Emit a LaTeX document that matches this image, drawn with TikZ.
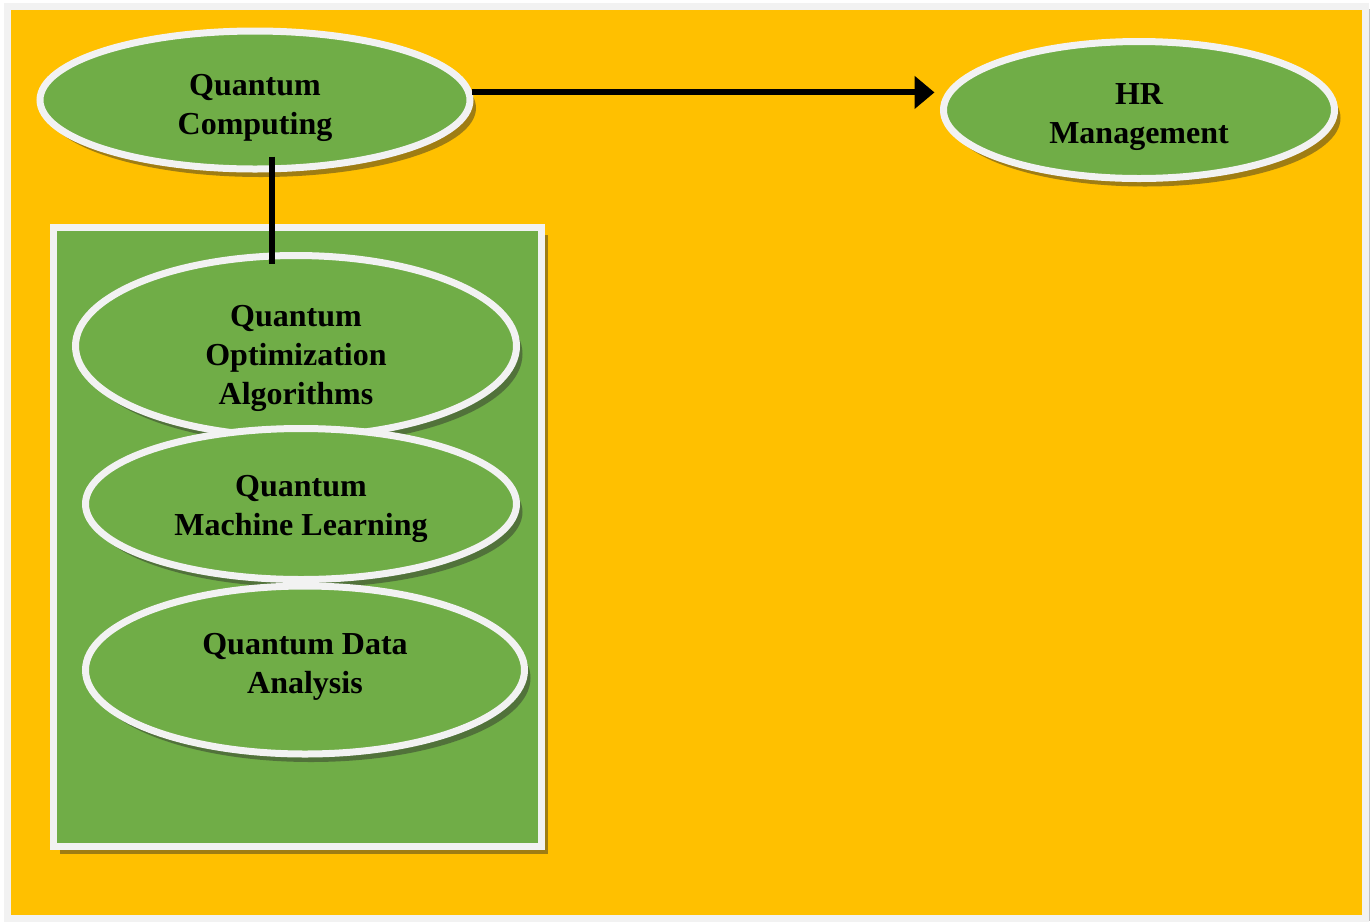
\documentclass[tikz,border=0pt]{standalone}
\usepackage{fontspec}
\setmainfont{Liberation Serif}
\usetikzlibrary{shapes.geometric,shadows,arrows.meta}
\definecolor{bgyellow}{HTML}{FFC000}
\definecolor{leafgreen}{HTML}{70AD47}
\definecolor{rimwhite}{HTML}{F2F2F2}
\definecolor{shade}{RGB}{44,44,44}

\begin{document}
\begin{tikzpicture}[x=0.5pt,y=-0.5pt,
		bubble/.style={ellipse, draw=rimwhite, fill=leafgreen, line width=3.5pt, inner sep=0pt,
			drop shadow={shadow xshift=3pt, shadow yshift=-4pt, fill=shade, opacity=.45}},
		caption/.style={inner sep=0pt, align=center, font=\fontsize{16}{19.5}\selectfont\bfseries},
		panel/.style={rectangle, draw=rimwhite, fill=leafgreen, line width=3.5pt, inner sep=0pt,
			drop shadow={shadow xshift=3pt, shadow yshift=-3.5pt, fill=shade, opacity=.45}},
		link/.style={line width=3pt, black}]
		% Page and frame
		\useasboundingbox (0,0) rectangle (1372,923);
		\fill[white] (0,0) rectangle (1372,923);
		\draw[rimwhite, line width=3.5pt, fill=bgyellow,
			drop shadow={shadow xshift=2pt, shadow yshift=-1pt, fill=shade, opacity=.3}] (7,6.5) rectangle (1365.5,918.5);

		% Group box
		\node[panel, minimum width=244pt, minimum height=309.5pt] (grp) at (297.5,537) {};

		% Main ellipses
		\node[bubble, minimum width=215pt, minimum height=69pt] (qc) at (255,100) {};
		\node[caption] (qcText) at ([yshift=-4pt]qc.center) {Quantum\\Computing};
		\node[bubble, minimum width=195.5pt, minimum height=68.5pt] (hr) at (1139,110) {};
		\node[caption] (hrText) at ([yshift=-3.75pt]hr.center) {HR\\Management};

		% Ellipses in the box
		\node[bubble, minimum width=220.5pt, minimum height=90.5pt] (opt) at (296,346) {};
		\node[caption] (optText) at ([yshift=-6pt]opt.center) {Quantum\\Optimization\\Algorithms};
		\node[bubble, minimum width=215.5pt, minimum height=75.5pt] (ml) at (301,504) {};
		\node[caption] (mlText) at ([yshift=-2.25pt]ml.center) {Quantum\\Machine Learning};
		\node[bubble, minimum width=219.5pt, minimum height=84pt] (qda) at (305,670) {};
		\node[caption] (qdaText) at ([yshift=1.75pt]qda.center) {Quantum Data\\Analysis};

		% Connectors
		\draw[link, -{Triangle[length=10pt,width=16pt]}, shorten >=2.75pt] (qc.2) -- (qc.2 -| hr.west);
		\coordinate (stemtop) at ([xshift=8.5pt,yshift=8pt]qc.south);
		\coordinate (stemfoot) at (stemtop |- opt.north);
		\draw[link] (stemtop) -- ([yshift=-6pt]stemfoot);
	\end{tikzpicture}
\end{document}
